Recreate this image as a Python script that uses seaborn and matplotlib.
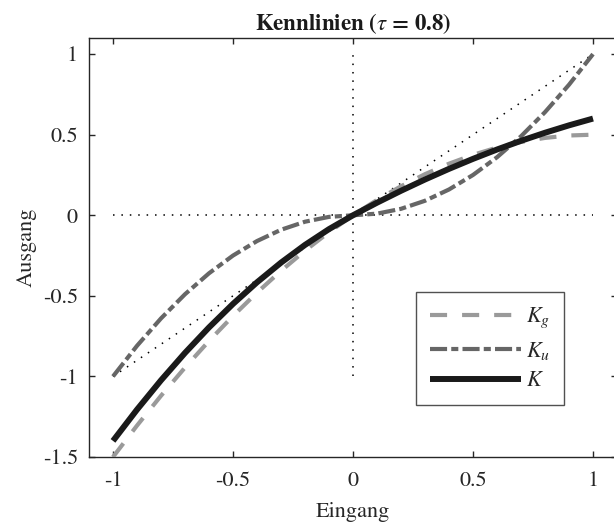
import matplotlib
matplotlib.use("Agg")
import matplotlib.pyplot as plt
import seaborn as sns
import pandas as pd

x_in = [-1.0, -0.9, -0.8, -0.7, -0.6, -0.5, -0.4, -0.3, -0.2, -0.1, 0.0,
        0.1, 0.2, 0.3, 0.4, 0.5, 0.6, 0.7, 0.8, 0.9, 1.0]
k_g = [-1.5, -1.305, -1.12, -0.945, -0.78, -0.625, -0.48, -0.345, -0.22, -0.105, 0.0,
       0.095, 0.18, 0.255, 0.32, 0.375, 0.42, 0.455, 0.48, 0.495, 0.5]
k_u = [-1.0, -0.81, -0.64, -0.49, -0.36, -0.25, -0.16, -0.09, -0.04, -0.01, 0.0,
       0.01, 0.04, 0.09, 0.16, 0.25, 0.36, 0.49, 0.64, 0.81, 1.0]
k = [-1.4, -1.206, -1.024, -0.854, -0.696, -0.55, -0.416, -0.294, -0.184, -0.086, 0.0,
     0.078, 0.152, 0.222, 0.288, 0.35, 0.408, 0.462, 0.512, 0.558, 0.6]

ref_x = [-1.0, 1.0]
ref_diag = [-1.0, 1.0]
ref_zero = [0.0, 0.0]

xticks = [-1, -0.5, 0, 0.5, 1]
xticklabels = ["-1", "-0.5", "0", "0.5", "1"]
yticks = [-1.5, -1, -0.5, 0, 0.5, 1]
yticklabels = ["-1.5", "-1", "-0.5", "0", "0.5", "1"]

sns.set_style("ticks")
plt.rcParams["font.family"] = ["STIXGeneral", "Liberation Serif", "DejaVu Serif"]
plt.rcParams["mathtext.fontset"] = "stix"
plt.rcParams["xtick.direction"] = "in"
plt.rcParams["ytick.direction"] = "in"

df = pd.DataFrame({"x": x_in, "Kg": k_g, "Ku": k_u, "K": k})

fig = plt.figure(figsize=(6.14, 5.24), dpi=100)
ax = fig.add_axes([89 / 614, 67 / 524, 528 / 614, 419 / 524])

dot = (0, (1, 4.5))
# dotted reference lines
sns.lineplot(x=ref_x, y=ref_zero, ax=ax, color="black", lw=1.1,
             linestyle=dot, estimator=None, sort=False, zorder=1)
sns.lineplot(x=ref_zero, y=ref_x, ax=ax, color="black", lw=1.1,
             linestyle=dot, estimator=None, sort=False, zorder=1)
sns.lineplot(x=ref_x, y=ref_diag, ax=ax, color="black", lw=1.1,
             linestyle=dot, estimator=None, sort=False, zorder=1)

sns.lineplot(data=df, x="x", y="Kg", ax=ax, color="#9a9a9a", lw=3.0,
             linestyle=(0, (4.1, 3.6)), dash_capstyle="butt",
             estimator=None, sort=False, label=r"$K_g$", zorder=3)
sns.lineplot(data=df, x="x", y="Ku", ax=ax, color="#666666", lw=3.0,
             linestyle=(0, (4.1, 1.0, 1.7, 1.0)), dash_capstyle="butt",
             estimator=None, sort=False, label=r"$K_u$", zorder=3)
sns.lineplot(data=df, x="x", y="K", ax=ax, color="#1a1a1a", lw=4.3,
             solid_capstyle="butt", estimator=None, sort=False,
             label=r"$K$", zorder=4)

ax.set_xlim(-1.1, 1.1)
ax.set_ylim(-1.5, 1.1)
ax.set_xticks(xticks)
ax.set_xticklabels(xticklabels)
ax.set_yticks(yticks)
ax.set_yticklabels(yticklabels)
ax.tick_params(axis="both", which="both", direction="in", length=4, width=1,
               top=True, right=True, labelsize=16, color="#262626",
               labelcolor="#262626")
ax.tick_params(axis="x", pad=10)
ax.tick_params(axis="y", pad=8)
for sp in ax.spines.values():
    sp.set_visible(True)
    sp.set_color("#262626")
    sp.set_linewidth(1.0)

ax.set_xlabel("Eingang", fontsize=16, color="#262626", labelpad=8)
ax.set_ylabel("Ausgang", fontsize=16, color="#262626", labelpad=4)
ax.set_title(r"Kennlinien ($\tau$ = 0.8)", fontsize=16.5, fontweight="bold",
             color="#1a1a1a", pad=6)

leg = ax.legend(loc="upper left",
                bbox_to_anchor=((416 - 89) / 528, (457 - 292) / 419),
                fontsize=16, frameon=True, fancybox=False, handlelength=4.1,
                handletextpad=0.25, borderpad=0.62, labelspacing=0.42,
                borderaxespad=0.0)
leg.get_frame().set_edgecolor("#262626")
leg.get_frame().set_linewidth(1.0)

fig.savefig("out.png", dpi=100)
